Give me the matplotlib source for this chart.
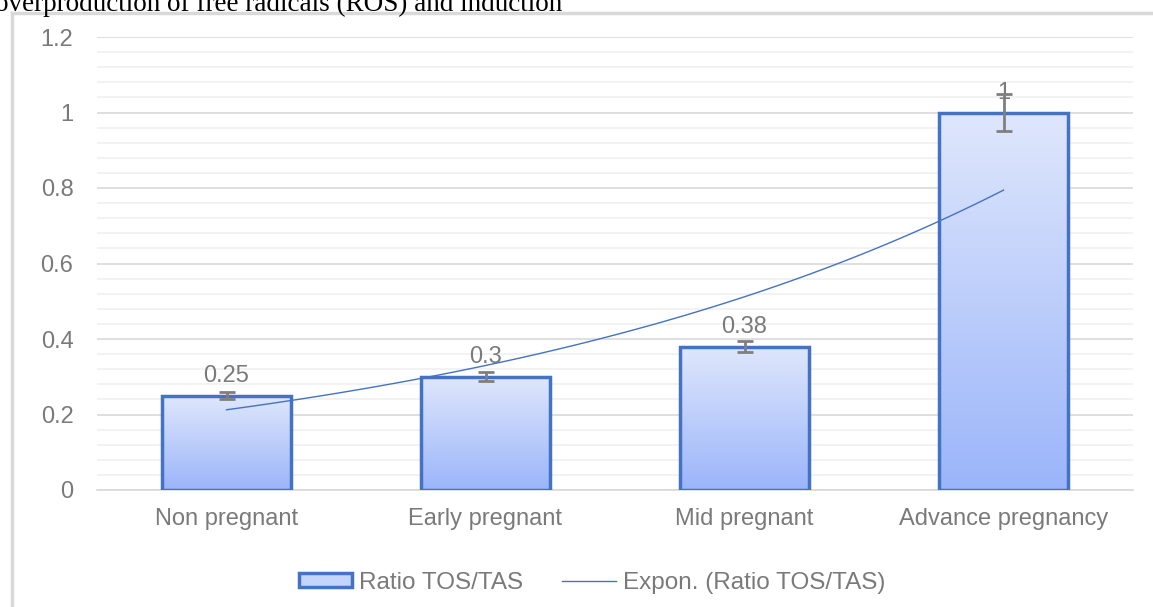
import numpy as np
import matplotlib
matplotlib.use('Agg')
import matplotlib.pyplot as plt
from matplotlib.ticker import MultipleLocator
from matplotlib.patches import Rectangle
from matplotlib.lines import Line2D

categories = ['Non pregnant', 'Early pregnant', 'Mid pregnant', 'Advance pregnancy']
ratio = [0.25, 0.3, 0.38, 1.0]
errors = [0.01, 0.012, 0.014, 0.05]
labels = ['0.25', '0.3', '0.38', '1']

plt.rcParams['font.family'] = ['Liberation Sans', 'DejaVu Sans']
txt_color = '#7a7a7a'
edge_blue = '#4472c4'

fig = plt.figure(figsize=(11.53, 6.07), dpi=100)
ax = fig.add_axes([97 / 1153, 1 - 490 / 607, (1133 - 97) / 1153, (490 - 37) / 607])

x = np.arange(len(categories))
bars = ax.bar(x, ratio, width=0.5, color='none', edgecolor=edge_blue, linewidth=2.5, zorder=3)

# gradient fill inside each bar
grad = np.linspace(0, 1, 256).reshape(-1, 1)
top_c = np.array([223, 231, 252]) / 255
bot_c = np.array([155, 181, 250]) / 255
img = top_c * (1 - grad[..., None]) + bot_c * grad[..., None]
img = img.reshape(256, 1, 3)
for b in bars:
    im = ax.imshow(img, extent=[b.get_x(), b.get_x() + b.get_width(), 0, b.get_height()],
                   aspect='auto', zorder=2, interpolation='bilinear')
    im.set_clip_path(b)

ax.errorbar(x, ratio, yerr=errors, fmt='none', ecolor='#7f7f7f', elinewidth=2,
            capsize=6, capthick=2, zorder=4)

# exponential trend line
coef = np.polyfit(x + 1, np.log(ratio), 1)
xs = np.linspace(0, 3, 100)
ax.plot(xs, np.exp(coef[1] + coef[0] * (xs + 1)), color=edge_blue, lw=1, zorder=5)

for xi, v, lab in zip(x, ratio, labels):
    ax.annotate(lab, (xi, v), xytext=(0, 6), textcoords='offset points',
                ha='center', va='bottom', fontsize=17, color=txt_color, zorder=3)

ax.set_xlim(-0.5, 3.5)
ax.set_ylim(0, 1.2)
ax.yaxis.set_major_locator(MultipleLocator(0.2))
ax.yaxis.set_minor_locator(MultipleLocator(0.04))
ax.set_yticks([0, 0.2, 0.4, 0.6, 0.8, 1.0, 1.2])
ax.set_yticklabels(['0', '0.2', '0.4', '0.6', '0.8', '1', '1.2'])
ax.grid(axis='y', which='major', color='#d9d9d9', lw=1.2, zorder=0)
ax.grid(axis='y', which='minor', color='#f0f0f0', lw=1.2, zorder=0)
ax.set_axisbelow(True)
ax.set_xticks(x)
ax.set_xticklabels(categories)
ax.tick_params(axis='both', which='both', length=0, labelsize=17, colors=txt_color)
ax.tick_params(axis='y', pad=17)
ax.tick_params(axis='x', pad=13)
for s in ['top', 'right', 'left']:
    ax.spines[s].set_visible(False)
ax.spines['bottom'].set_color('#d9d9d9')
ax.spines['bottom'].set_linewidth(1.2)

handles = [Rectangle((0, 0), 1, 1, facecolor='#c5d4fb', edgecolor=edge_blue, linewidth=2.5),
           Line2D([0], [0], color=edge_blue, lw=1)]
fig.legend(handles, ['Ratio TOS/TAS', 'Expon. (Ratio TOS/TAS)'], loc='center',
           bbox_to_anchor=(592 / 1153, 1 - 583 / 607), ncol=2, frameon=False, fontsize=17.5,
           labelcolor=txt_color, handlelength=2.2, handleheight=0.5, columnspacing=1.6,
           handletextpad=0.3)

# chart frame (left and top border)
fig.add_artist(Line2D([11.5 / 1153, 11.5 / 1153], [0, 1 - 13 / 607], color='#d9d9d9', lw=2.5,
                      transform=fig.transFigure))
fig.add_artist(Line2D([11.5 / 1153, 1], [1 - 13 / 607, 1 - 13 / 607], color='#d9d9d9', lw=2.5,
                      transform=fig.transFigure))

fig.text(-0.004, 1 - 11 / 607, 'overproduction of free radicals (ROS) and induction',
         family='Liberation Serif', fontsize=19.5, color='black', ha='left', va='baseline')

fig.savefig('out.png', dpi=100)
